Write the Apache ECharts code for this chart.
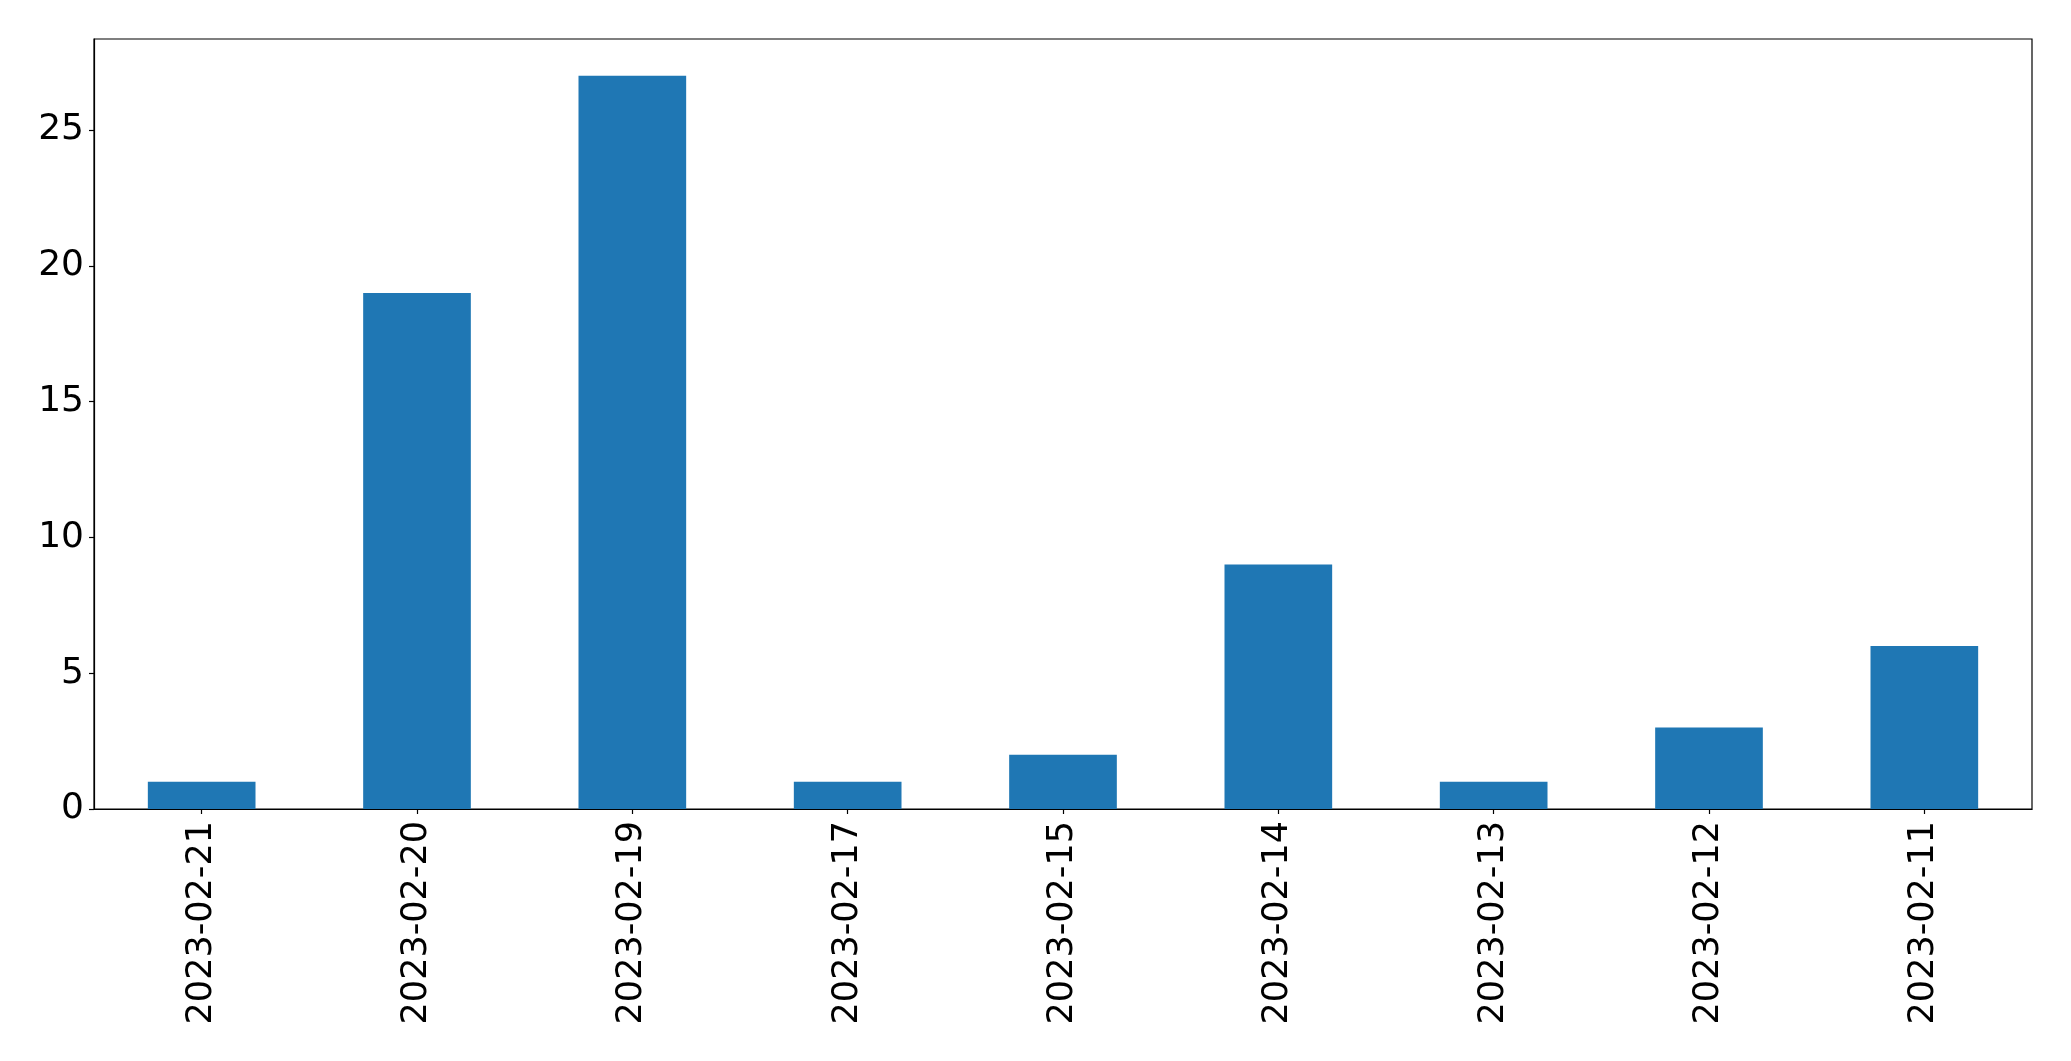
<!DOCTYPE html>
<html>
<head>
<meta charset="utf-8">
<script src="https://cdn.jsdelivr.net/npm/echarts@6/dist/echarts.min.js"></script>
<style>
html,body{margin:0;padding:0;background:#fff;}
#chart{width:2071px;height:1061px;}
</style>
</head>
<body>
<div id="chart"></div>
<script>
const categories = ['2023-02-21','2023-02-20','2023-02-19','2023-02-17','2023-02-15','2023-02-14','2023-02-13','2023-02-12','2023-02-11'];
const values = [1, 19, 27, 1, 2, 9, 1, 3, 6];
const yTicks = [0, 5, 10, 15, 20, 25];
const yMax = 28.35;

const chart = echarts.init(document.getElementById('chart'), null, {renderer: 'canvas'});
const font = 'DejaVu Sans';
chart.setOption({
  animation: false,
  backgroundColor: '#ffffff',
  grid: {
    left: 94, right: 39, top: 39, bottom: 252,
    show: true, borderColor: '#000', borderWidth: 1.2, backgroundColor: 'transparent'
  },
  xAxis: {
    type: 'category',
    data: categories,
    boundaryGap: true,
    axisLine: {show: true, lineStyle: {color: '#000', width: 1.2}},
    axisTick: {show: true, alignWithLabel: true, length: 5, lineStyle: {color: '#000', width: 1.2}},
    axisLabel: {rotate: 90, fontSize: 35, fontFamily: font, color: '#000', margin: 12, interval: 0},
    splitLine: {show: false}
  },
  yAxis: {
    type: 'value',
    min: 0,
    max: yMax,
    interval: 5,
    axisLine: {show: true, lineStyle: {color: '#000', width: 1.2}},
    axisTick: {show: true, length: 5, customValues: yTicks, lineStyle: {color: '#000', width: 1.2}},
    axisLabel: {fontSize: 36, fontFamily: font, color: '#000', margin: 10, padding: [5, 0, 0, 0], customValues: yTicks},
    splitLine: {show: false}
  },
  series: [{
    type: 'bar',
    data: values,
    barWidth: '50%',
    itemStyle: {color: '#1f77b4'}
  }]
});
</script>
</body>
</html>
